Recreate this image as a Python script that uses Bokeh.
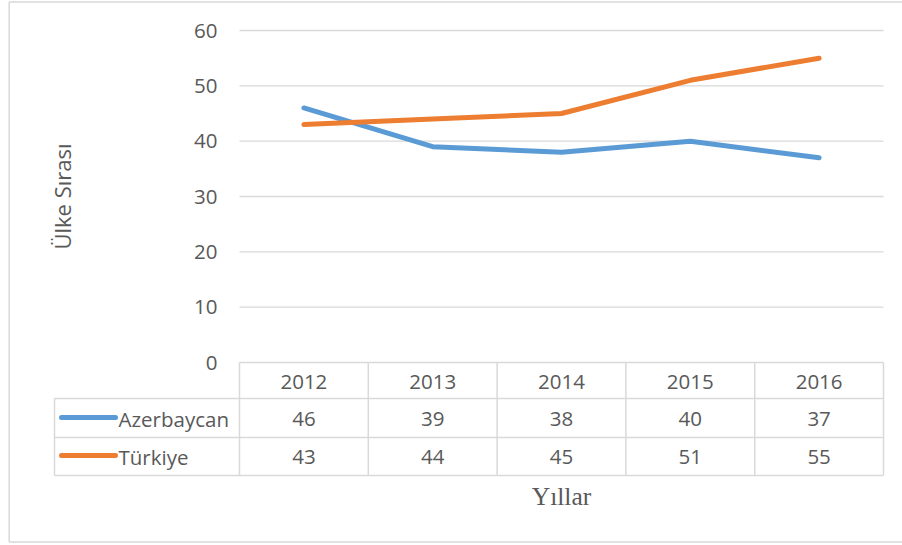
import numpy as np
from bokeh.plotting import figure
from bokeh.models import Range1d
from bokeh.core.properties import value
from bokeh.embed import file_html
from bokeh.resources import INLINE

# ---- data ----
years = ["2012", "2013", "2014", "2015", "2016"]
azerbaycan = [46, 39, 38, 40, 37]
turkiye = [43, 44, 45, 51, 55]
series_names = ["Azerbaycan", "Türkiye"]
y_ticks = [0, 10, 20, 30, 40, 50, 60]
y_title = "Ülke Sırası"
x_title = "Yıllar"

# ---- layout (page pixels) ----
W, H = 902, 545
OX, OY = 0, 0
LEFT, RIGHT = 239, 883
TOP, ZERO = 30, 362
YMAX = y_ticks[-1]
CW = (RIGHT - LEFT) / len(years)
PPU = (ZERO - TOP) / YMAX

def dx(X):
    return (X - LEFT) / CW - 0.5

def dy(Y):
    return (ZERO - Y) / PPU

GRID = "#D9D9D9"
TXT = "#595959"
FONT = value("Open Sans")
FS = "20.5px"
COLORS = ["#5B9BD5", "#ED7D31"]

p = figure(width=W, height=H,
           x_range=Range1d(dx(OX), dx(OX + W)),
           y_range=Range1d(dy(OY + H), dy(OY)),
           x_axis_type=None, y_axis_type=None,
           min_border=0, toolbar_location=None, output_backend="svg",
           outline_line_color=None)
p.background_fill_color = "white"
p.border_fill_color = "white"

# outer chart border
BL, BT, BB, BR = 8.7, 1.5, 541.5, 902
p.segment(x0=[dx(BL), dx(BL), dx(BL)], y0=[dy(BT), dy(BT), dy(BB)],
          x1=[dx(BR), dx(BL), dx(BR)], y1=[dy(BT), dy(BB), dy(BB)],
          line_color=GRID, line_width=1.5)

# gridlines
gt = [t for t in y_ticks if t > 0]
p.segment(x0=[dx(LEFT)] * len(gt), y0=gt, x1=[dx(RIGHT)] * len(gt), y1=gt,
          line_color=GRID, line_width=1.4)

# y tick labels
p.text(x=[dx(217)] * len(y_ticks), y=y_ticks, text=[str(t) for t in y_ticks],
       text_align="right", text_baseline="middle", text_font=FONT,
       text_font_size=FS, text_color=TXT)

# y title
p.text(x=[dx(61)], y=[dy(196)], text=[y_title], angle=np.pi / 2,
       text_align="center", text_baseline="middle", text_font=FONT,
       text_font_size="22px", text_color=TXT)

# lines
xs = list(range(len(years)))
for vals, col in zip([azerbaycan, turkiye], COLORS):
    p.line(x=xs, y=vals, line_color=col, line_width=5,
           line_cap="round", line_join="round")

# data table
row_edges = [362, 398, 437, 475]
col_edges = [LEFT + CW * i for i in range(len(years) + 1)]
LEG_LEFT = 54
hx0 = [dx(LEFT)] + [dx(LEG_LEFT)] * 3
p.segment(x0=hx0, y0=[dy(r) for r in row_edges],
          x1=[dx(RIGHT)] * 4, y1=[dy(r) for r in row_edges],
          line_color=GRID, line_width=1.5)
p.segment(x0=[dx(c) for c in col_edges] + [dx(LEG_LEFT)],
          y0=[dy(362)] * len(col_edges) + [dy(398)],
          x1=[dx(c) for c in col_edges] + [dx(LEG_LEFT)],
          y1=[dy(475)] * (len(col_edges) + 1),
          line_color=GRID, line_width=1.5)

# header
p.text(x=xs, y=[dy(381)] * len(xs), text=years, text_align="center",
       text_baseline="middle", text_font=FONT, text_font_size=FS, text_color=TXT)

row_centers = [418, 456]
for vals, name, col, rc in zip([azerbaycan, turkiye], series_names, COLORS, row_centers):
    p.text(x=xs, y=[dy(rc)] * len(xs), text=[str(v) for v in vals],
           text_align="center", text_baseline="middle", text_font=FONT,
           text_font_size=FS, text_color=TXT)
    p.segment(x0=[dx(61)], y0=[dy(rc - 1)], x1=[dx(115)], y1=[dy(rc - 1)],
              line_color=col, line_width=5, line_cap="round")
    p.text(x=[dx(118)], y=[dy(rc)], text=[name], text_align="left",
           text_baseline="middle", text_font=FONT, text_font_size=FS,
           text_color=TXT)

# x title
p.text(x=[(len(years) - 1) / 2], y=[dy(496)], text=[x_title],
       text_align="center", text_baseline="middle",
       text_font=value("Liberation Serif"), text_font_size="25.5px",
       text_color=TXT)

open("out.html", "w").write(file_html(p, INLINE))
